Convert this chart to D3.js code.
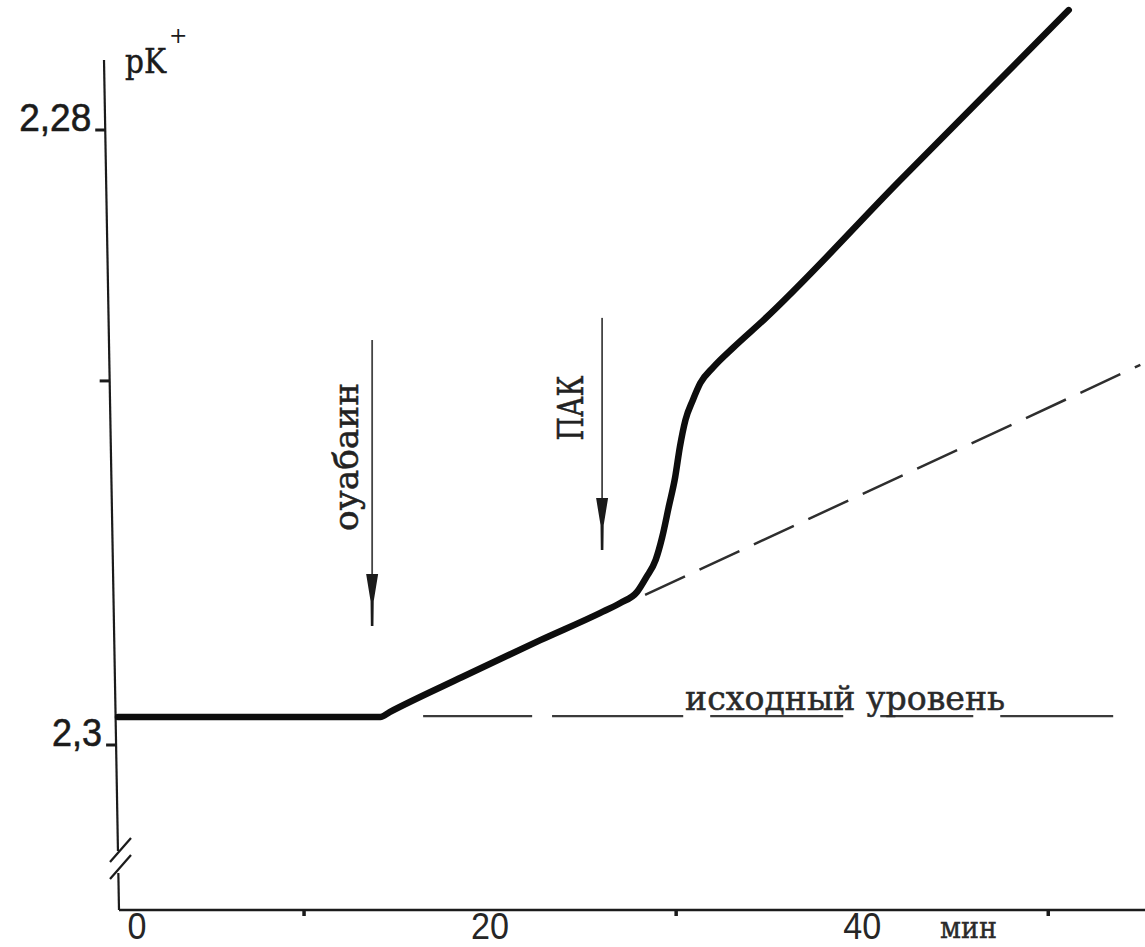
<!DOCTYPE html>
<html>
<head>
<meta charset="utf-8">
<script src="https://cdn.jsdelivr.net/npm/d3@7"></script>
<style>
  html, body { margin: 0; padding: 0; background: #ffffff; }
  svg { display: block; }
</style>
</head>
<body>
<svg id="chart" width="1145" height="947"></svg>
<script>
// ---------- data ----------
// time in minutes, pK+ values
const mainTimes  = [0, 14.1, 14.6, 18.5, 22.7, 25.9, 27.0, 27.9, 28.4, 28.9, 29.25, 29.6, 29.95, 30.2, 30.5, 30.9, 31.3, 32.0, 33.1, 34.7, 42.0, 51.1];
const mainValues = [2.29909, 2.29909, 2.29893, 2.29779, 2.29659, 2.29571, 2.29538, 2.29502, 2.29454, 2.29398, 2.29324, 2.29226, 2.29128, 2.29031, 2.28943, 2.28878, 2.28823, 2.28771, 2.28706, 2.28618, 2.28166, 2.27610];

// dashed extrapolation of the ouabain slope
const extrapTimes  = [28.33, 54.95];
const extrapValues = [2.29512, 2.28764];

// baseline ("исходный уровень") dashed segments
const baselineLevel = 2.29906;
const baselineSegStart = [16.4, 23.33, 31.83, 40.97, 47.42];
const baselineSegEnd   = [22.26, 30.38, 38.98, 45.97, 53.49];
const baselineLabel = "исходный уровень";
const baselineLabelTime = 30.48;

// addition arrows
const arrowLabels = ["оуабаин", "ПАК"];
const arrowTimes  = [13.66, 26.02];
const arrowTopValues    = [2.28683, 2.28611];
const arrowBottomValues = [2.29613, 2.29366];

// axes
const yTickValues = [2.28, 2.28816, 2.30];
const yTickLabels = ["2,28", "", "2,3"];
const xLabelValues = [0, 20, 40];
const xLabelTexts  = ["0", "20", "40"];
const xMinorTicks  = [10, 30, 50];
const xUnit = "мин";
const yUnit = "pK";
const yUnitSup = "+";

// ---------- drawing ----------
const svg = d3.select("#chart");
const ink = "#1b1b1b";
const typeFont = "DejaVu Serif, Liberation Serif, serif";
const digitFont = "Liberation Sans, Arial, sans-serif";

const x = d3.scaleLinear().domain([0, 55.2]).range([118, 1145]);
const y = d3.scaleLinear().domain([2.28, 2.30]).range([130, 745]);

const axisTop = 60, axisBottom = 910;
// hand-drawn axis is slightly slanted
const axisX = yy => 104 + (yy - axisTop) * 15 / (axisBottom - axisTop);

const g = svg.append("g");

// y axis with a break
g.append("line")
  .attr("x1", axisX(axisTop)).attr("y1", axisTop)
  .attr("x2", axisX(851)).attr("y2", 851)
  .attr("stroke", ink).attr("stroke-width", 2.2);
g.append("line")
  .attr("x1", axisX(873)).attr("y1", 873)
  .attr("x2", axisX(axisBottom)).attr("y2", axisBottom)
  .attr("stroke", ink).attr("stroke-width", 2.2);
// break marks
[0, 17].forEach(dy => {
  g.append("line")
    .attr("x1", 131).attr("y1", 838 + dy)
    .attr("x2", 110).attr("y2", 862 + dy)
    .attr("stroke", ink).attr("stroke-width", 2.2);
});

// y ticks
yTickValues.forEach((v, i) => {
  const yy = y(v);
  const ax = axisX(yy);
  g.append("line")
    .attr("x1", ax - 10).attr("y1", yy).attr("x2", ax).attr("y2", yy)
    .attr("stroke", ink).attr("stroke-width", 3);
  if (yTickLabels[i]) {
    const w = yTickLabels[i].length === 4 ? 72 : 50;
    g.append("text")
      .attr("x", ax - 14).attr("y", yy + 1)
      .attr("text-anchor", "end")
      .attr("font-family", digitFont)
      .attr("font-size", 38)
      .attr("fill", ink)
      .attr("stroke", ink).attr("stroke-width", 0.6)
      .attr("textLength", w).attr("lengthAdjust", "spacingAndGlyphs")
      .text(yTickLabels[i]);
  }
});

// y unit pK+ (one text, superscript as tspan)
const unitText = g.append("text")
  .attr("x", 125).attr("y", 73)
  .attr("font-family", typeFont)
  .attr("fill", ink);
unitText.append("tspan")
  .attr("font-size", 34)
  .attr("stroke", ink).attr("stroke-width", 0.5)
  .attr("textLength", 41).attr("lengthAdjust", "spacingAndGlyphs")
  .text(yUnit);
unitText.append("tspan")
  .attr("font-size", 22)
  .attr("dx", 3).attr("dy", -30)
  .text(yUnitSup);

// x axis
g.append("line")
  .attr("x1", axisX(axisBottom)).attr("y1", axisBottom)
  .attr("x2", 1145).attr("y2", axisBottom)
  .attr("stroke", ink).attr("stroke-width", 2.5);
xMinorTicks.forEach(t => {
  g.append("line")
    .attr("x1", x(t)).attr("y1", axisBottom)
    .attr("x2", x(t)).attr("y2", axisBottom + 6)
    .attr("stroke", ink).attr("stroke-width", 3.5);
});
xLabelValues.forEach((t, i) => {
  g.append("text")
    .attr("x", t === 0 ? x(t) + 19 : x(t)).attr("y", 939)
    .attr("text-anchor", "middle")
    .attr("font-family", digitFont)
    .attr("font-size", 36)
    .attr("fill", "#262626")
    .attr("textLength", xLabelTexts[i].length * 19).attr("lengthAdjust", "spacingAndGlyphs")
    .text(xLabelTexts[i]);
});
g.append("text")
  .attr("x", 940).attr("y", 938)
  .attr("font-family", typeFont)
  .attr("font-size", 30)
  .attr("fill", "#2a2a2a")
  .attr("stroke", "#2a2a2a").attr("stroke-width", 0.4)
  .attr("textLength", 57).attr("lengthAdjust", "spacingAndGlyphs")
  .text(xUnit);

// baseline dashed segments
baselineSegStart.forEach((s, i) => {
  g.append("line")
    .attr("x1", x(s)).attr("y1", y(baselineLevel))
    .attr("x2", x(baselineSegEnd[i])).attr("y2", y(baselineLevel))
    .attr("stroke", "#3a3a3a").attr("stroke-width", 2.4);
});
g.append("text")
  .attr("x", x(baselineLabelTime)).attr("y", y(baselineLevel) - 6)
  .attr("font-family", typeFont)
  .attr("font-size", 34)
  .attr("fill", "#2a2a2a")
  .attr("stroke", "#2a2a2a").attr("stroke-width", 0.5)
  .attr("textLength", 320).attr("lengthAdjust", "spacingAndGlyphs")
  .text(baselineLabel);

// extrapolation dashed line
const extrap = extrapTimes.map((t, i) => [t, extrapValues[i]]);
g.append("path")
  .datum(extrap)
  .attr("d", d3.line().x(d => x(d[0])).y(d => y(d[1])))
  .attr("fill", "none")
  .attr("stroke", "#2e2e2e")
  .attr("stroke-width", 2.5)
  .attr("stroke-dasharray", "44,16");

// main curve
const mainData = mainTimes.map((t, i) => [t, mainValues[i]]);
g.append("path")
  .datum(mainData)
  .attr("d", d3.line().x(d => x(d[0])).y(d => y(d[1])).curve(d3.curveMonotoneX))
  .attr("fill", "none")
  .attr("stroke", "#0d0d0d")
  .attr("stroke-width", 6.5)
  .attr("stroke-linejoin", "round")
  .attr("stroke-linecap", "round");

// arrows
arrowTimes.forEach((t, i) => {
  const ax = x(t);
  const top = y(arrowTopValues[i]);
  const bottom = y(arrowBottomValues[i]);
  const headTop = bottom - 52;
  const headTip = bottom - 25;
  g.append("line")
    .attr("x1", ax).attr("y1", top).attr("x2", ax).attr("y2", headTop + 2)
    .attr("stroke", "#444").attr("stroke-width", 1.8);
  g.append("path")
    .attr("d", `M${ax - 6},${headTop} L${ax + 6},${headTop} L${ax + 1.6},${headTip} L${ax + 1.3},${bottom} L${ax - 1.3},${bottom} L${ax - 1.6},${headTip} Z`)
    .attr("fill", ink);
  const ly = (top + headTop) / 2;
  const isCaps = arrowLabels[i] === arrowLabels[i].toUpperCase();
  g.append("text")
    .attr("transform", `translate(${ax - (isCaps ? 19 : 14)},${ly}) rotate(-90)`)
    .attr("text-anchor", "middle")
    .attr("font-family", typeFont)
    .attr("font-size", isCaps ? 36 : 33)
    .attr("fill", "#222")
    .attr("stroke", "#222").attr("stroke-width", 0.5)
    .attr("textLength", isCaps ? 65 : 148).attr("lengthAdjust", "spacingAndGlyphs")
    .text(arrowLabels[i]);
});
</script>
</body>
</html>
